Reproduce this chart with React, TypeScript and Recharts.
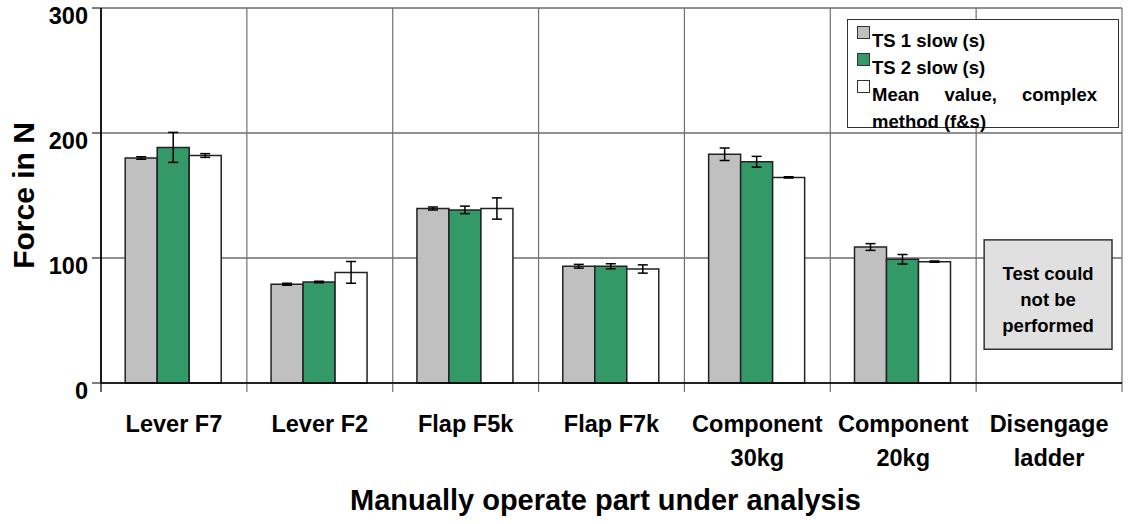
import { Bar, BarChart, CartesianGrid, ErrorBar, Legend, ReferenceArea, ReferenceLine, XAxis, YAxis } from "recharts";

const FONT = "'Liberation Sans', Arial, Helvetica, sans-serif";

const CATEGORIES = [
  "Lever F7",
  "Lever F2",
  "Flap F5k",
  "Flap F7k",
  "Component 30kg",
  "Component 20kg",
  "Disengage ladder",
];
const TICK_LINES = [
  ["Lever F7"],
  ["Lever F2"],
  ["Flap F5k"],
  ["Flap F7k"],
  ["Component", "30kg"],
  ["Component", "20kg"],
  ["Disengage", "ladder"],
];

const SERIES_NAMES = ["TS 1 slow (s)", "TS 2 slow (s)", "Mean value, complex method (f&s)"];
const SERIES_COLORS = ["#c0c0c0", "#339966", "#ffffff"];

const TS1 = [180, 79, 139.6, 93.4, 183, 108.8, null];
const TS1_ERR = [1, 0.8, 1.2, 1.5, 5, 2.7, null];
const TS2 = [188.5, 80.8, 138.5, 93.4, 177, 99, null];
const TS2_ERR = [12, 0.6, 3, 2, 4.3, 3.8, null];
const MEAN = [182, 88.5, 139.6, 91.2, 164.5, 97.1, null];
const MEAN_ERR = [1.5, 8.7, 8.5, 3.3, 0.5, 0.5, null];

const Y_TICKS = [0, 100, 200, 300];
const NOT_PERFORMED = ["Test could", "not be", "performed"];
const NOT_PERFORMED_RANGE = [27, 114.5];

const data = CATEGORIES.map((name, i) => ({
  name,
  ts1: TS1[i],
  ts1Err: TS1_ERR[i],
  ts2: TS2[i],
  ts2Err: TS2_ERR[i],
  mean: MEAN[i],
  meanErr: MEAN_ERR[i],
}));

function YTick({ x, y, payload }: any) {
  return (
    <text x={x} y={y} dy={16} textAnchor="end" fontSize={23.5} fontWeight="bold" fill="#000" fontFamily={FONT}>
      {payload.value}
    </text>
  );
}

function XTick({ x, y, payload }: any) {
  const lines = TICK_LINES[CATEGORIES.indexOf(payload.value)] || [payload.value];
  return (
    <text x={x} y={y} textAnchor="middle" fontSize={23.5} fontWeight="bold" fill="#000" fontFamily={FONT}>
      {lines.map((l, i) => (
        <tspan key={l} x={x} dy={i === 0 ? 49 : 34}>
          {l}
        </tspan>
      ))}
    </text>
  );
}

function BoundaryLine(props: any) {
  const top = Math.min(props.y1, props.y2);
  const bottom = Math.max(props.y1, props.y2);
  return <line x1={props.x1} x2={props.x2} y1={top} y2={bottom + 9} stroke={props.stroke} strokeWidth={1.2} />;
}

function NotPerformedBox(props: any) {
  const { x, y, width, height } = props;
  const bx = x + 8;
  const bw = width - 18;
  return (
    <g>
      <rect x={bx} y={y} width={bw} height={height} fill="#e0e0e0" stroke="#333" strokeWidth={1.5} />
      <text x={bx + bw / 2} y={y} textAnchor="middle" fontSize={18.5} fontWeight="bold" fill="#000" fontFamily={FONT}>
        {NOT_PERFORMED.map((l, i) => (
          <tspan key={l} x={bx + bw / 2} dy={i === 0 ? 40 : 26}>
            {l}
          </tspan>
        ))}
      </text>
    </g>
  );
}

function LegendBox() {
  return (
    <div
      style={{
        width: 272,
        height: 109,
        boxSizing: "border-box",
        border: "1px solid #333",
        background: "#fff",
        padding: "7px 0 0 9px",
        fontFamily: FONT,
        fontWeight: "bold",
        fontSize: 18.5,
        lineHeight: "27px",
        color: "#000",
      }}
    >
      {SERIES_NAMES.map((n, i) => (
        <div key={n} style={{ display: "flex", alignItems: "flex-start" }}>
          <span
            style={{
              width: 13,
              height: 13,
              boxSizing: "border-box",
              border: "1px solid #333",
              background: SERIES_COLORS[i],
              marginTop: -1,
              marginRight: 2,
              flex: "none",
            }}
          />
          <span style={{ width: 225, textAlign: "justify" }}>{n}</span>
        </div>
      ))}
    </div>
  );
}

export default function App() {
  return (
    <div>
      <style>{"body{margin:0}"}</style>
      <BarChart
        width={1128}
        height={524}
        data={data}
        margin={{ top: 8, right: 6, bottom: 0, left: 0 }}
        barCategoryGap="16.6%"
        barGap={0}
      >
        <CartesianGrid vertical={false} stroke="#222" />
        <XAxis
          dataKey="name"
          height={141}
          tickLine={false}
          tickSize={0}
          tickMargin={0}
          axisLine={{ stroke: "#000", strokeWidth: 1.5 }}
          interval={0}
          tick={<XTick />}
          label={{
            content: ({ viewBox }: any) => (
              <text
                x={viewBox.x + viewBox.width / 2 - 6}
                y={viewBox.y + 127}
                textAnchor="middle"
                fontSize={29}
                fontWeight="bold"
                fill="#000"
                fontFamily={FONT}
              >
                Manually operate part under analysis
              </text>
            ),
          }}
        />
        <YAxis
          width={101}
          domain={[0, 300]}
          ticks={Y_TICKS}
          interval={0}
          tickSize={9}
          tickMargin={4}
          axisLine={{ stroke: "#000", strokeWidth: 1.5 }}
          tickLine={{ stroke: "#000" }}
          tick={<YTick />}
          label={{
            content: ({ viewBox }: any) => {
              const cx = 23;
              const cy = viewBox.y + viewBox.height / 2;
              return (
                <text
                  x={cx}
                  y={cy}
                  transform={`rotate(-90 ${cx} ${cy})`}
                  textAnchor="middle"
                  dominantBaseline="central"
                  fontSize={30}
                  fontWeight="bold"
                  fill="#000"
                  fontFamily={FONT}
                >
                  Force in N
                </text>
              );
            },
          }}
        />
        {CATEGORIES.map((c, i) => (
          <ReferenceLine
            key={c}
            x={c}
            position="start"
            stroke={i === 0 ? "#000" : "#707070"}
            shape={BoundaryLine}
          />
        ))}
        <ReferenceLine x={CATEGORIES[CATEGORIES.length - 1]} position="end" stroke="#707070" shape={BoundaryLine} />
        <ReferenceArea
          x1={CATEGORIES[6]}
          x2={CATEGORIES[6]}
          y1={NOT_PERFORMED_RANGE[0]}
          y2={NOT_PERFORMED_RANGE[1]}
          ifOverflow="visible"
          shape={NotPerformedBox}
        />
        <Bar dataKey="ts1" name={SERIES_NAMES[0]} fill={SERIES_COLORS[0]} stroke="#222" strokeWidth={1.5} isAnimationActive={false}>
          <ErrorBar dataKey="ts1Err" width={5} stroke="#000" strokeWidth={1.5} />
        </Bar>
        <Bar dataKey="ts2" name={SERIES_NAMES[1]} fill={SERIES_COLORS[1]} stroke="#222" strokeWidth={1.5} isAnimationActive={false}>
          <ErrorBar dataKey="ts2Err" width={5} stroke="#000" strokeWidth={1.5} />
        </Bar>
        <Bar dataKey="mean" name={SERIES_NAMES[2]} fill={SERIES_COLORS[2]} stroke="#222" strokeWidth={1.5} isAnimationActive={false}>
          <ErrorBar dataKey="meanErr" width={5} stroke="#000" strokeWidth={1.5} />
        </Bar>
        <Legend
          layout="vertical"
          align="center"
          verticalAlign="middle"
          wrapperStyle={{ position: "absolute", left: 847, top: 19, width: 272, height: 109 }}
          content={() => <LegendBox />}
        />
      </BarChart>
    </div>
  );
}
